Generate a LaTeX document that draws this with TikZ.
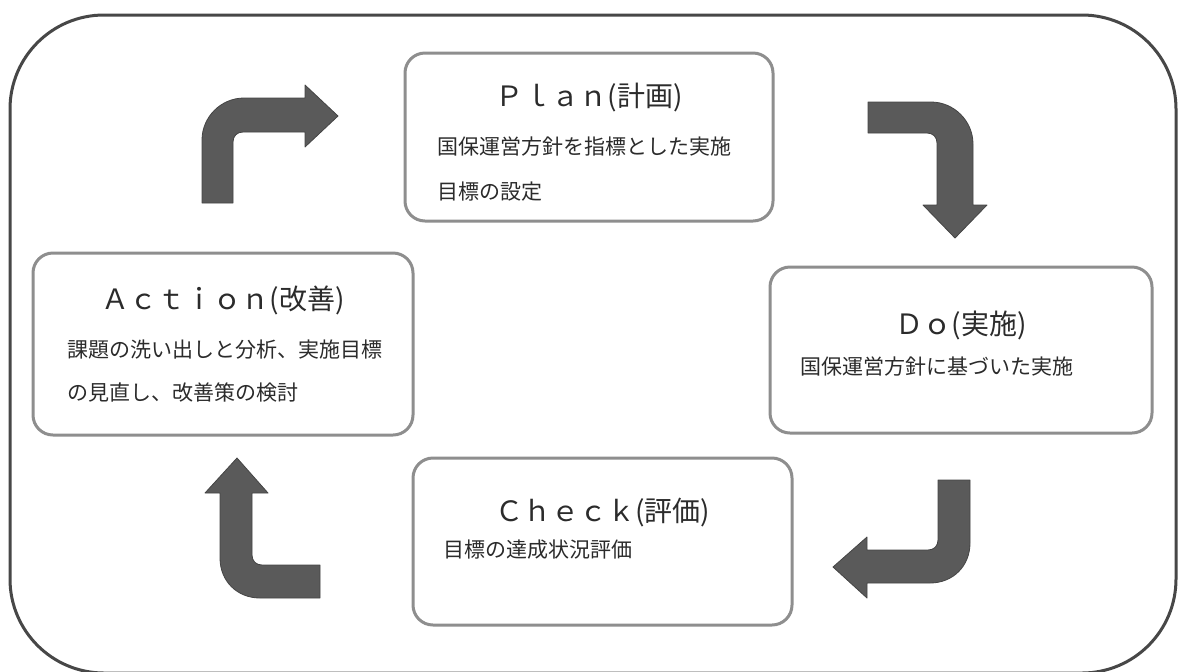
\documentclass[tikz,border=0pt]{standalone}
\usepackage{fontspec}
\setmainfont{Noto Sans CJK JP}
\usetikzlibrary{positioning}
\definecolor{rahmengrau}{HTML}{474747}
\definecolor{boxgrau}{HTML}{8E8E8E}
\definecolor{pfeilgrau}{HTML}{5A5A5A}
\definecolor{textgrau}{HTML}{2B2B2B}

\begin{document}
\begin{tikzpicture}[x=0.5pt, y=-0.5pt, % 1 Einheit = 1 Pixel, y nach unten
  phase/.style={draw=boxgrau, line width=1.5pt, rounded corners=10pt, fill=white, inner sep=0pt},
  phasetitel/.style={font=\fontsize{14}{16}\selectfont, text=textgrau, inner sep=0pt},
  phasetext/.style={font=\fontsize{10.5}{22.5}\selectfont, text=textgrau, align=left, anchor=west, inner sep=0pt},
  pfeil/.style={fill=pfeilgrau, draw=pfeilgrau!75!black, line width=0.4pt, line join=round}]

% Rahmen
\useasboundingbox (0,0) rectangle (1178,671);
\fill[white] (0,0) rectangle (1178,671);
\draw[rahmengrau, line width=1.5pt, rounded corners=47pt] (10,15) rectangle (1176,673);

% Kästen mit Titel
\foreach \name/\cx/\cy/\w/\h/\ty/\titel in {plan/589/137/184/84/98/Ｐｌａｎ(計画), action/223/344/190/91/300/Ａｃｔｉｏｎ(改善), do/961/350/191/83/325/Ｄｏ(実施), check/602.5/541.5/189.5/83.5/513/Ｃｈｅｃｋ(評価)} {
  \node[phase, minimum width=\w pt, minimum height=\h pt] (\name) at (\cx,\cy) {}; % Kasten
  \node[phasetitel] (\name-titel) at (\cx,\ty) {\titel}; % Titel
}

% Beschreibungen
\node[phasetext] (plan-text) at (437,169.5) {国保運営方針を指標とした実施\\目標の設定};
\node[phasetext, font=\fontsize{10.5}{21.5}\selectfont] (action-text) at (67,371.5) {課題の洗い出しと分析、実施目標\\の見直し、改善策の検討};
\node[phasetext] (do-text) at (800,367) {国保運営方針に基づいた実施};
\node[phasetext] (check-text) at (443,550) {目標の達成状況評価};

% Pfeile im Kreislauf
\filldraw[pfeil] (202,203) -- (202,140) .. controls (202,117) and (221,98) .. (244,98) -- (305,98) -- (305,85) -- (338,116)
  -- (305,147) -- (305,132) -- (243,132) .. controls (237,132) and (233,136) .. (233,142) -- (233,203) -- cycle; % Action -> Plan
\filldraw[pfeil] (868,102) -- (931,102) .. controls (954,102) and (973,121) .. (973,144) -- (973,205) -- (987,205) -- (955,238)
  -- (923,205) -- (937,205) -- (937,143) .. controls (937,137) and (933,133) .. (927,133) -- (868,133) -- cycle; % Plan -> Do
\filldraw[pfeil] (938,480) -- (970,480) -- (970,543) .. controls (970,566) and (953,583) .. (930,583) -- (867,583) -- (867,598)
  -- (833,567) -- (867,537) -- (867,550) -- (928,550) .. controls (934,550) and (938,546) .. (938,540) -- cycle; % Do -> Check
\filldraw[pfeil] (237,458) -- (268,493) -- (252,493) -- (252,555) .. controls (252,561) and (256,565) .. (262,565) -- (320,565)
  -- (320,598) -- (260,598) .. controls (237,598) and (220,581) .. (220,558) -- (220,493) -- (205,493) -- cycle; % Check -> Action

\end{tikzpicture}
\end{document}
